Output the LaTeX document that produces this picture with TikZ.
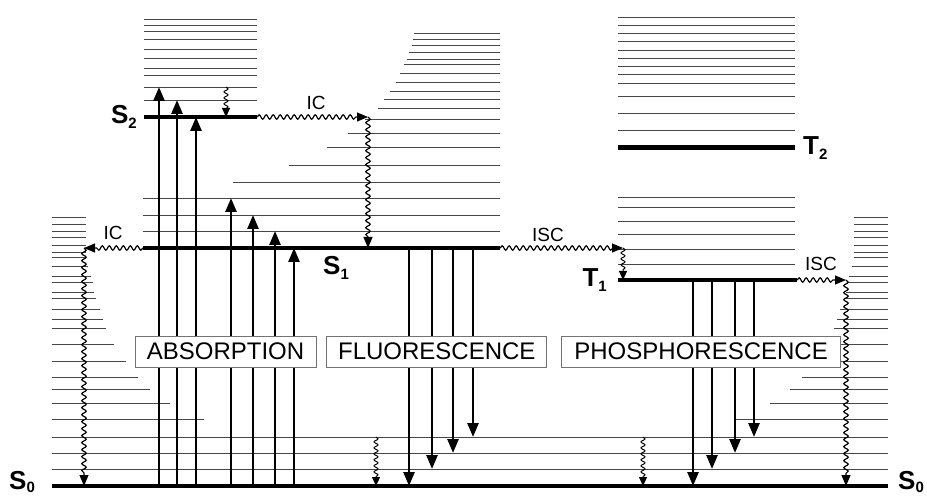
\documentclass[tikz,border=0pt]{standalone}
\usepackage{fontspec}
\setmainfont{Liberation Sans}
\usetikzlibrary{positioning,arrows.meta,decorations.pathmorphing}

\newcommand{\statelbl}[3][5pt]{{\fontsize{26}{26}\selectfont\bfseries #2}{\fontsize{15}{15}\selectfont\bfseries\raisebox{-#1}{#3}}}

\begin{document}
\begin{tikzpicture}[
  x=1pt, y=-1pt,
  level/.style      = {line width=4pt},
  vib/.style        = {line width=0.9pt, draw=black!72},
  radiative/.style  = {line width=2.6pt, -{Triangle[length=14pt,width=11pt]}},
  wavy/.style       = {line width=1.2pt, decorate,
                       decoration={snake, amplitude=2.2pt, segment length=7pt, post length=10pt},
                       -{Triangle[length=11pt,width=9pt]}},
  relax/.style      = {line width=1pt, decorate,
                       decoration={snake, amplitude=2pt, segment length=6pt, post length=8pt},
                       -{Triangle[length=9pt,width=8pt]}},
  procbox/.style    = {draw=black!55, line width=0.8pt, fill=white, inner sep=0pt,
                       minimum height=31pt, font=\fontsize{24}{24}\selectfont},
  statelabel/.style = {inner sep=0pt},
  proclabel/.style  = {inner sep=0pt, font=\fontsize{19}{19}\selectfont}
]
\useasboundingbox (0,0) rectangle (927,497);

% electronic states
\coordinate (s0w) at (52,486);  \coordinate (s0e) at (888,486);
\coordinate (s1w) at (143,248); \coordinate (s1e) at (500,248);
\coordinate (s2w) at (144,117); \coordinate (s2e) at (257,117);
\coordinate (t1w) at (618,280); \coordinate (t1e) at (797,280);
\coordinate (t2w) at (618,148); \coordinate (t2e) at (795,148);

% vibrational levels
\foreach \y [count=\i] in {469,453,437} {
  \draw[vib] (52,\y) -- (888,\y);
  \coordinate (s0v\i) at (52,\y);
}
\foreach \y/\xe in {217/86, 224/86, 231/86, 237/86, 245/86, 252/86, 257/86, 266/88,
                    276/91, 282/93, 292/94, 298/96, 309/100, 319/103, 328/106, 344/114,
                    361/126, 377/138, 389/150, 403/170, 419/204} {
  \draw[vib] (52,\y) -- (\xe,\y);
  \draw[vib] ({940-\xe},\y) -- (888,\y);
}
\foreach \y/\xs [count=\i] in {231/143, 215/143, 198/143, 182/233, 165/289, 147/327,
                               133/348, 119/365, 108/378, 99/384, 91/390, 82/396,
                               73/400, 64/404, 59/407, 52/409, 45/412, 39/413, 33/414} {
  \draw[vib] (\xs,\y) -- (500,\y);
  \coordinate (s1v\i) at (\xs,\y);
}
\foreach \y [count=\i] in {100,87,75,68,58,49,39,31,25,19} {
  \draw[vib] (144,\y) -- (257,\y);
  \coordinate (s2v\i) at (144,\y);
}
\foreach \y in {264,249,234,221,207,197,130,113,96,83,74,66,58,50,41,33,25,17}
  \draw[vib] (618,\y) -- (795,\y);

\draw[level] (s0w) -- (s0e);
\draw[level] (s1w) -- (s1e);
\draw[level] (s2w) -- (s2e);
\draw[level] (t1w) -- (t1e);
\draw[level, line width=5pt] (t2w) -- (t2e);

% state labels
\node[statelabel, left=7pt of s2w]  (s2lbl)  {\statelbl{S}{2}};
\node[statelabel, anchor=base west] (s1lbl) at (323,275) {\statelbl{S}{1}};
\node[statelabel, anchor=base west] (s0lblw) at (9,489) {\statelbl[3pt]{S}{0}};
\node[statelabel, anchor=base west] (s0lble) at (898,489) {\statelbl[3pt]{S}{0}};
\node[statelabel, left=11pt of t1w] (t1lbl)  {\statelbl{T}{1}};
\node[statelabel, right=8pt of t2e] (t2lbl)  {\statelbl{T}{2}};

% absorption, fluorescence, phosphorescence
\foreach \x/\tgt in {159/s2v2, 177/s2v1, 196/s2w, 231/s1v3, 253/s1v2, 275/s1v1, 294/s1w}
  \draw[radiative] (\x,0 |- s0w) -- (\x,0 |- \tgt);
\foreach \x/\tgt in {409/s0w, 432/s0v1, 453/s0v2, 473/s0v3}
  \draw[radiative] (\x,0 |- s1w) -- (\x,0 |- \tgt);
\foreach \x/\tgt in {693/s0w, 712/s0v1, 735/s0v2, 754/s0v3}
  \draw[radiative] (\x,0 |- t1w) -- (\x,0 |- \tgt);

% non-radiative steps
\coordinate (icA)  at (368,117);
\coordinate (icB)  at (84,248);
\coordinate (iscA) at (623,248);
\coordinate (iscB) at (846,280);

\draw[wavy] (s2e) -- (icA);
\draw[wavy] (icA) -- (icA |- s1w);
\draw[wavy] (s1w) -- (icB);
\draw[wavy] (icB) -- (icB |- s0w);
\draw[wavy] (s1e) -- (iscA);
\draw[relax] (iscA) -- (iscA |- t1w);
\draw[wavy] (t1e) -- (iscB);
\draw[wavy] (iscB) -- (iscB |- s0w);

\draw[relax] (226,0 |- s2v2) -- (226,0 |- s2w);
\draw[relax] (376,0 |- s0v3) -- (376,0 |- s0w);
\draw[relax] (643,0 |- s0v3) -- (643,0 |- s0w);

\node[proclabel] (icAlbl)  at (316,103) {IC};
\node[proclabel] (icBlbl)  at (113,233) {IC};
\node[proclabel] (iscAlbl) at (548,235) {ISC};
\node[proclabel] (iscBlbl) at (821,264) {ISC};

% process boxes
\node[procbox, minimum width=181pt] (absbox) at (225.5,351.5) {ABSORPTION};
\node[procbox, minimum width=220pt, right=10pt of absbox]  (fluobox) {FLUORESCENCE};
\node[procbox, minimum width=279pt, right=14pt of fluobox] (phosbox) {PHOSPHORESCENCE};

\end{tikzpicture}
\end{document}
